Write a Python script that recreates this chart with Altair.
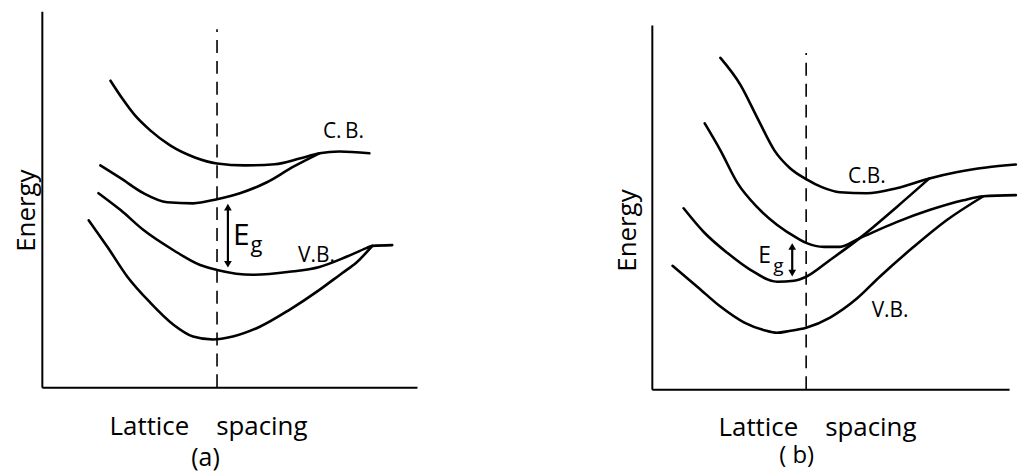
import altair as alt
import pandas as pd

FONT = "Open Sans"

# ---------------- Panel (a): data units 0..10 on both axes ----------------
a_cb_upper_x = [1.83, 2.15, 2.49, 2.89, 3.42, 4.08, 4.67, 5.41, 6.21, 6.87, 7.40, 7.93, 8.73]
a_cb_upper_y = [8.15, 7.67, 7.22, 6.83, 6.43, 6.11, 5.95, 5.90, 5.93, 6.08, 6.22, 6.27, 6.22]
a_cb_lower_x = [1.56, 2.10, 2.71, 3.34, 4.03, 4.67, 5.28, 6.00, 6.68, 7.40]
a_cb_lower_y = [5.90, 5.56, 5.16, 4.92, 4.89, 5.00, 5.16, 5.45, 5.85, 6.22]
a_vb_upper_x = [1.51, 2.10, 2.71, 3.50, 4.22, 4.67, 5.62, 6.60, 7.40, 8.12, 8.65, 8.81, 9.34]
a_vb_upper_y = [5.16, 4.71, 4.18, 3.65, 3.25, 3.12, 2.99, 3.07, 3.20, 3.47, 3.70, 3.76, 3.78]
a_vb_lower_x = [1.25, 1.75, 2.28, 2.89, 3.50, 4.03, 4.56, 5.09, 5.81, 6.60, 7.40, 8.01, 8.38, 8.81]
a_vb_lower_y = [4.44, 3.73, 2.94, 2.25, 1.67, 1.35, 1.27, 1.35, 1.61, 2.06, 2.59, 3.04, 3.31, 3.76]

a_dash_x = 4.67
a_dash_top = 9.52
a_arrow_x = 4.96
a_arrow_top = 4.89
a_arrow_bottom = 3.17
a_labels = ["C.\u2009B.", "V.B."]
a_labels_x = [8.04, 7.32]
a_labels_y = [6.64, 3.33]
a_e_xy = (5.32, 3.78)
a_g_xy = (5.72, 3.60)

# ---------------- Panel (b) ----------------
b_cb_upper_x = [1.92, 2.48, 2.95, 3.43, 3.87, 4.32, 4.76, 5.26, 6.02, 6.85, 7.77, 8.52, 9.36, 10.19]
b_cb_upper_y = [9.10, 8.36, 7.46, 6.56, 6.07, 5.77, 5.55, 5.41, 5.38, 5.52, 5.79, 5.96, 6.09, 6.17]
b_cb_lower_x = [1.48, 1.92, 2.40, 2.95, 3.51, 4.07, 4.32, 4.82, 5.26, 5.82, 6.85, 7.77, 8.72, 9.28, 10.19]
b_cb_lower_y = [7.30, 6.56, 5.66, 5.00, 4.51, 4.15, 4.02, 3.91, 3.91, 4.15, 4.59, 4.92, 5.19, 5.30, 5.33]
b_vb_upper_x = [0.89, 1.48, 2.12, 2.76, 3.51, 3.98, 4.32, 4.99, 5.82, 6.85, 7.77]
b_vb_upper_y = [4.97, 4.29, 3.74, 3.28, 2.95, 2.98, 3.09, 3.55, 4.15, 5.00, 5.79]
b_vb_lower_x = [0.58, 1.28, 1.92, 2.59, 3.15, 3.50, 3.85, 4.32, 4.99, 5.74, 6.38, 7.33, 8.25, 9.28]
b_vb_lower_y = [3.39, 2.81, 2.27, 1.83, 1.62, 1.55, 1.60, 1.69, 1.97, 2.49, 3.09, 3.91, 4.64, 5.30]

b_dash_x = 4.32
b_dash_top = 9.23
b_arrow_x = 3.93
b_arrow_top = 4.02
b_arrow_bottom = 3.09
b_labels = ["C.B.", "V.B."]
b_labels_x = [6.02, 6.67]
b_labels_y = [5.66, 1.99]
b_e_xy = (3.16, 3.47)
b_g_xy = (3.54, 3.22)


def curves_frame(series):
    rows = []
    for name, xs, ys in series:
        for x, y in zip(xs, ys):
            rows.append({"curve": name, "x": x, "y": y})
    return pd.DataFrame(rows)


def make_panel(series, dash_x, dash_top, arrow_x, arrow_top, arrow_bottom,
               labels, labels_x, labels_y, e_xy, g_xy, e_size, g_size,
               width, height, yrange, xtitle_x, xtitle_pad, ytitle_pad, ytitle_y,
               caption, caption_dx, caption_offset, caption_size, head_off):
    xs = alt.Scale(domain=[0, 10], nice=False, zero=False)
    ys = alt.Scale(domain=[0, 10], nice=False, zero=False, range=yrange)
    xa = alt.Axis(title="Lattice\u00a0\u00a0\u00a0\u00a0spacing", titleX=xtitle_x,
                  titlePadding=xtitle_pad)
    ya = alt.Axis(title="Energy", titlePadding=ytitle_pad, titleY=ytitle_y)
    X = alt.X("x:Q", scale=xs, axis=xa)
    Y = alt.Y("y:Q", scale=ys, axis=ya)

    lines = alt.Chart(curves_frame(series)).mark_line(
        interpolate="monotone", color="black", strokeWidth=2.6, strokeCap="round"
    ).encode(x=X, y=Y, detail="curve:N")

    dash = alt.Chart(pd.DataFrame({"x": [dash_x], "y": [0.0], "y2": [dash_top]})).mark_rule(
        color="black", strokeWidth=1.6, strokeDash=[13, 8]
    ).encode(x=X, y=Y, y2="y2:Q")

    shaft = alt.Chart(pd.DataFrame({"x": [arrow_x], "y": [arrow_bottom + head_off],
                                    "y2": [arrow_top - head_off]})).mark_rule(
        color="black", strokeWidth=2.2
    ).encode(x=X, y=Y, y2="y2:Q")

    heads = alt.Chart(pd.DataFrame({
        "x": [arrow_x, arrow_x],
        "y": [arrow_top - head_off, arrow_bottom + head_off],
        "shape": ["triangle-up", "triangle-down"],
    })).mark_point(filled=True, size=60, opacity=1, color="black").encode(
        x=X, y=Y, shape=alt.Shape("shape:N", scale=None)
    )

    lab = alt.Chart(pd.DataFrame({"x": labels_x, "y": labels_y, "t": labels})).mark_text(
        font=FONT, fontSize=21, baseline="alphabetic", align="center", color="black"
    ).encode(x=X, y=Y, text="t:N")

    e_txt = alt.Chart(pd.DataFrame({"x": [e_xy[0]], "y": [e_xy[1]], "t": ["E"]})).mark_text(
        font=FONT, fontSize=e_size, baseline="alphabetic", align="center", color="black"
    ).encode(x=X, y=Y, text="t:N")

    g_txt = alt.Chart(pd.DataFrame({"x": [g_xy[0]], "y": [g_xy[1]], "t": ["g"]})).mark_text(
        font=FONT, fontSize=g_size, baseline="alphabetic", align="center", color="black"
    ).encode(x=X, y=Y, text="t:N")

    return alt.layer(lines, dash, shaft, heads, lab, e_txt, g_txt).properties(
        width=width, height=height,
        title=alt.Title(caption, orient="bottom", anchor="middle", dx=caption_dx,
                        offset=caption_offset, fontSize=caption_size),
    )


panel_a = make_panel(
    [("cb_upper", a_cb_upper_x, a_cb_upper_y), ("cb_lower", a_cb_lower_x, a_cb_lower_y),
     ("vb_upper", a_vb_upper_x, a_vb_upper_y), ("vb_lower", a_vb_lower_x, a_vb_lower_y)],
    a_dash_x, a_dash_top, a_arrow_x, a_arrow_top, a_arrow_bottom,
    a_labels, a_labels_x, a_labels_y, a_e_xy, a_g_xy, 30, 22,
    width=377, height=378, yrange=[378, 0], xtitle_x=167, xtitle_pad=26, ytitle_pad=2,
    ytitle_y=200, caption="(a)", caption_dx=-24, caption_offset=7, caption_size=25,
    head_off=0.1,
)

panel_b = make_panel(
    [("cb_upper", b_cb_upper_x, b_cb_upper_y), ("cb_lower", b_cb_lower_x, b_cb_lower_y),
     ("vb_upper", b_vb_upper_x, b_vb_upper_y), ("vb_lower", b_vb_lower_x, b_vb_lower_y)],
    b_dash_x, b_dash_top, b_arrow_x, b_arrow_top, b_arrow_bottom,
    b_labels, b_labels_x, b_labels_y, b_e_xy, b_g_xy, 23, 19,
    width=359, height=380, yrange=[380, 14], xtitle_x=166, xtitle_pad=25, ytitle_pad=11,
    ytitle_y=220, caption="(\u00a0b)", caption_dx=-34, caption_offset=4, caption_size=24,
    head_off=0.1,
)

chart = alt.hconcat(panel_a, panel_b, spacing=236, bounds="flush").properties(
    padding={"left": 6, "top": 2, "right": 0, "bottom": 0}
).configure_view(stroke=None).configure_axis(
    domain=True, domainColor="black", domainWidth=2, ticks=False, labels=False, grid=False,
    titleFont=FONT, titleFontSize=26, titleFontWeight="normal", titleColor="black",
).configure_title(
    font=FONT, fontSize=26, fontWeight="normal", color="black",
)

chart.save("out.html", embed_options={"renderer": "svg", "actions": False})
